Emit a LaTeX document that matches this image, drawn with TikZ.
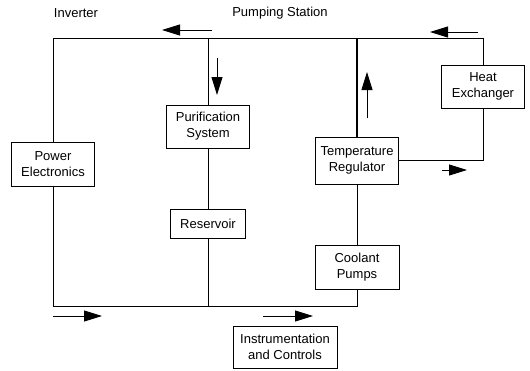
\documentclass[tikz,border=0pt]{standalone}
\usepackage{fontspec}
\setmainfont{Liberation Sans}
\usetikzlibrary{arrows.meta}
\begin{document}
\begin{tikzpicture}[x=1pt, y=-1pt,
                    Block/.style={draw, line width=0.8pt, align=center, font=\fontsize{13}{16}\selectfont, inner sep=0},
                    pipe/.style={line width=0.8pt},
                    flow_arrow/.style={-{Triangle[length=18pt, width=11pt]}, line width=0.9pt},
                    top_label/.style={font=\fontsize{13}{15}\selectfont}
                    ]
        \useasboundingbox (0,0) rectangle (530,370);
        \node[top_label] (inv) at (76,13) {Inverter};
        \node[top_label] (pump) at (280,13) {Pumping Station};

        \node[Block, minimum width=83, minimum height=44] (pe)  at (53,164)    {Power\\Electronics};
        \node[Block, minimum width=83, minimum height=43] (pur) at (208,126.5) {Purification\\System};
        \node[Block, minimum width=75, minimum height=29] (res) at (208,223.5) {Reservoir};
        \node[Block, minimum width=83, minimum height=47] (tmp) at (357,160.5) {Temperature\\Regulator};
        \node[Block, minimum width=84, minimum height=44] (cp)  at (357,267)   {Coolant\\Pumps};
        \node[Block, minimum width=83, minimum height=43] (hx)  at (483,86.5)  {Heat\\Exchanger};
        \node[Block, minimum width=104, minimum height=42] (ic) at (285,347)   {Instrumentation\\and Controls};

        \coordinate (tl) at (53,38);
        \coordinate (tr) at (483,38);
        \coordinate (bl) at (53,306);

        % loop lines
        \draw[pipe] (pe.north) -- (tl) -- (tr) -- (hx.north);
        \draw[pipe] (hx.south) |- (tmp.east);
        \draw[line width=2pt] (tmp.north) -- (tmp.north |- tl);
        \draw[pipe] (tmp.south) -- (cp.north);
        \draw[pipe] (cp.south) -- (cp.south |- bl) -- (bl) -- (pe.south);
        \draw[pipe] (pur.north |- tl) -- (pur.north);
        \draw[pipe] (pur.south) -- (res.north);
        \draw[pipe] (res.south) -- (res.south |- bl);

        % flow direction
        \draw[flow_arrow] (212,30) -- (162,30);
        \draw[flow_arrow] (478,32) -- (430,32);
        \draw[flow_arrow] (217,58) -- (217,95);
        \draw[flow_arrow] (367,118) -- (367,72);
        \draw[flow_arrow] (442,170) -- (467,170);
        \draw[flow_arrow] (53,316) -- (102,316);
        \draw[flow_arrow] (263,316) -- (313,316);
\end{tikzpicture}
\end{document}
